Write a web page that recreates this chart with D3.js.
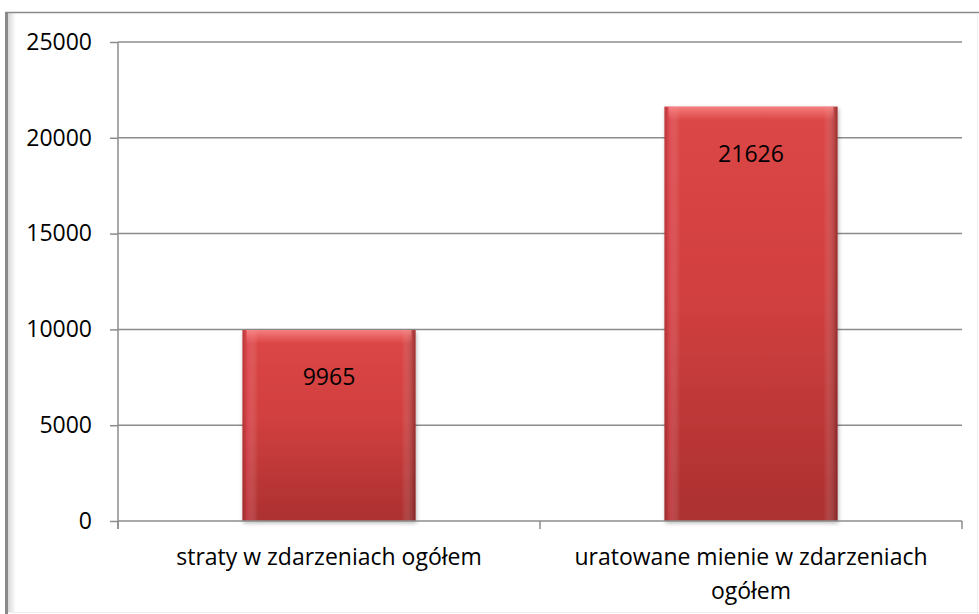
<!DOCTYPE html>
<html>
<head>
<meta charset="utf-8">
<script src="https://cdnjs.cloudflare.com/ajax/libs/d3/7.8.5/d3.min.js"></script>
<style>
  html,body{margin:0;padding:0;background:#fff;}
  svg{display:block;font-family:"Open Sans",sans-serif;}
</style>
</head>
<body>
<svg id="chart" width="979" height="614"></svg>
<script>
const categories = [["straty w zdarzeniach ogółem"], ["uratowane mienie w zdarzeniach", "ogółem"]];
const values = [9965, 21626];
const yTicks = [0, 5000, 10000, 15000, 20000, 25000];

const width = 979, height = 614;
const margin = {top:42, right:17, bottom:93, left:118};
const fontSize = 23;
const svg = d3.select('#chart');

// ramka wykresu
const defs = svg.append('defs');
const sh = defs.append('linearGradient').attr('id','leftShade');
sh.append('stop').attr('offset','0%').attr('stop-color','#d8d8d8');
sh.append('stop').attr('offset','100%').attr('stop-color','#ffffff');
svg.append('rect').attr('x',8).attr('y',13).attr('width',8).attr('height',height-15).attr('fill','url(#leftShade)');
svg.append('line').attr('x1',6.5).attr('x2',6.5).attr('y1',12).attr('y2',height).attr('stroke','#8a8a8a').attr('stroke-width',3);
svg.append('line').attr('x1',5).attr('x2',width).attr('y1',12.5).attr('y2',12.5).attr('stroke','#8a8a8a').attr('stroke-width',1.5);
svg.append('line').attr('x1',977.5).attr('x2',977.5).attr('y1',13).attr('y2',height).attr('stroke','#eeeeee').attr('stroke-width',1);
svg.append('line').attr('x1',8).attr('x2',width).attr('y1',612.5).attr('y2',612.5).attr('stroke','#eeeeee').attr('stroke-width',1);

const x = d3.scaleBand().domain(d3.range(values.length)).range([margin.left, width-margin.right]).paddingInner(0.59).paddingOuter(0.295);
const y = d3.scaleLinear().domain([0,25000]).range([height-margin.bottom, margin.top]);

// siatka
svg.append('g').selectAll('line').data(yTicks.slice(1)).enter().append('line')
  .attr('x1',margin.left).attr('x2',width-margin.right)
  .attr('y1',d=>y(d)).attr('y2',d=>y(d))
  .attr('stroke','#8c8c8c').attr('stroke-width',1.5);

// gradienty słupków
const vg = defs.append('linearGradient').attr('id','barV').attr('x1',0).attr('x2',0).attr('y1',0).attr('y2',1);
vg.append('stop').attr('offset','0%').attr('stop-color','#dc4646');
vg.append('stop').attr('offset','45%').attr('stop-color','#d24040');
vg.append('stop').attr('offset','100%').attr('stop-color','#ac3030');
const hg = defs.append('linearGradient').attr('id','barH');
hg.append('stop').attr('offset','0%').attr('stop-color','#7a1a1a').attr('stop-opacity',0.35);
hg.append('stop').attr('offset','3%').attr('stop-color','#e85a70').attr('stop-opacity',0.35);
hg.append('stop').attr('offset','9%').attr('stop-color','#ffffff').attr('stop-opacity',0);
hg.append('stop').attr('offset','92%').attr('stop-color','#ffffff').attr('stop-opacity',0);
hg.append('stop').attr('offset','100%').attr('stop-color','#4a0c0c').attr('stop-opacity',0.45);
const tg = defs.append('linearGradient').attr('id','barTop').attr('x1',0).attr('x2',0).attr('y1',0).attr('y2',1);
tg.append('stop').attr('offset','0%').attr('stop-color','#ff9a9a').attr('stop-opacity',0.7);
tg.append('stop').attr('offset','100%').attr('stop-color','#ff8080').attr('stop-opacity',0);
const flt = defs.append('filter').attr('id','shadow').attr('x','-10%').attr('y','-10%').attr('width','120%').attr('height','120%');
flt.append('feDropShadow').attr('dx',1).attr('dy',2).attr('stdDeviation',2).attr('flood-color','#000').attr('flood-opacity',0.3);

const bars = svg.append('g').selectAll('g').data(values).enter().append('g');
bars.append('rect')
  .attr('x',(d,i)=>x(i)).attr('y',d=>y(d))
  .attr('width',x.bandwidth()).attr('height',d=>y(0)-y(d))
  .attr('fill','url(#barV)').attr('filter','url(#shadow)');
bars.append('rect')
  .attr('x',(d,i)=>x(i)).attr('y',d=>y(d))
  .attr('width',x.bandwidth()).attr('height',d=>y(0)-y(d))
  .attr('fill','url(#barH)');
bars.append('rect')
  .attr('x',(d,i)=>x(i)+4).attr('y',d=>y(d))
  .attr('width',x.bandwidth()-8).attr('height',14)
  .attr('fill','url(#barTop)');
bars.append('text')
  .attr('x',(d,i)=>x(i)+x.bandwidth()/2).attr('y',d=>y(d)+55)
  .attr('text-anchor','middle').attr('font-size',fontSize).attr('fill','#000')
  .text(d=>d);

// oś Y
const yAxis = d3.axisLeft(y).tickValues(yTicks).tickSize(8).tickPadding(18).tickFormat(d3.format('d'));
const gy = svg.append('g').attr('transform',`translate(${margin.left},0)`).call(yAxis);
gy.select('.domain').remove();
gy.append('line').attr('x1',0).attr('x2',0).attr('y1',y(25000)).attr('y2',y(0)+8).attr('stroke','#8c8c8c').attr('stroke-width',1.5);
gy.selectAll('.tick line').attr('stroke','#8c8c8c').attr('stroke-width',1.5);
gy.selectAll('.tick text').attr('font-size',fontSize).attr('fill','#000').attr('font-family','"Open Sans",sans-serif');

// oś X
svg.append('line').attr('x1',margin.left).attr('x2',width-margin.right).attr('y1',y(0)).attr('y2',y(0)).attr('stroke','#8c8c8c').attr('stroke-width',1.5);
const bounds = [margin.left, (margin.left+width-margin.right)/2, width-margin.right];
svg.append('g').selectAll('line').data(bounds).enter().append('line')
  .attr('x1',d=>d).attr('x2',d=>d).attr('y1',y(0)).attr('y2',y(0)+8)
  .attr('stroke','#8c8c8c').attr('stroke-width',1.5);

const labels = svg.append('g').selectAll('text').data(categories).enter().append('text')
  .attr('x',(d,i)=>x(i)+x.bandwidth()/2).attr('y',y(0)+44)
  .attr('text-anchor','middle').attr('font-size',fontSize).attr('fill','#000');
labels.selectAll('tspan').data(d=>d).enter().append('tspan')
  .attr('x',function(){return this.parentNode.getAttribute('x');})
  .attr('dy',(d,i)=>i===0?0:34).text(d=>d);
</script>
</body>
</html>
